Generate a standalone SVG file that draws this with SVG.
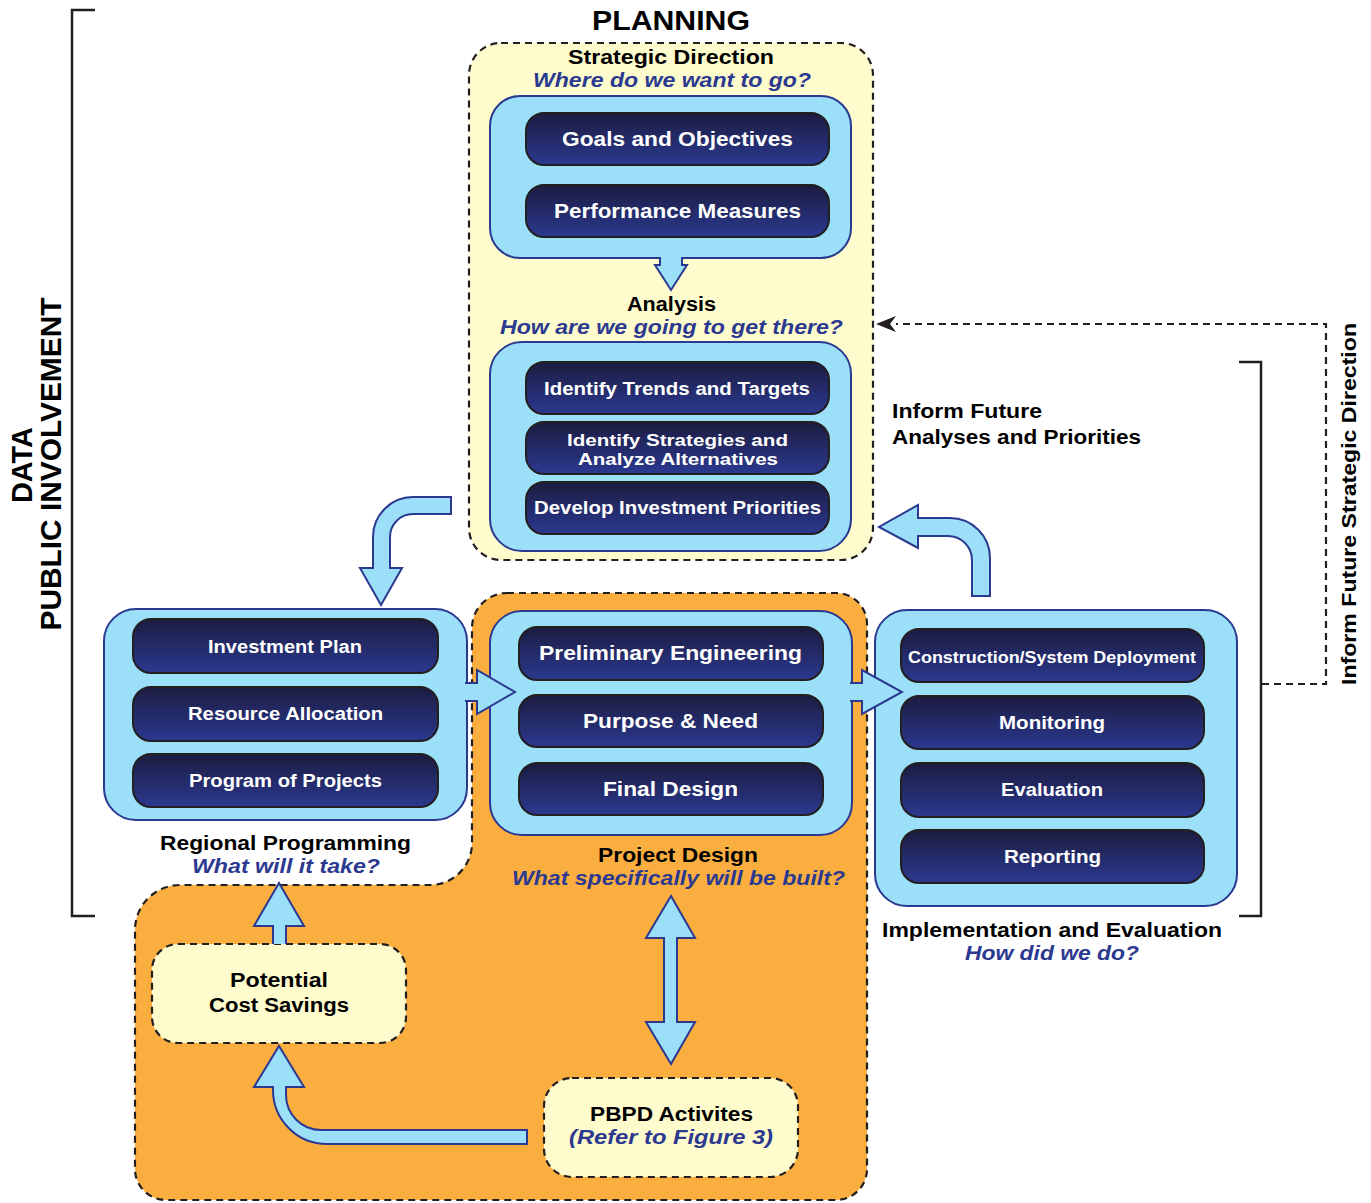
<svg xmlns="http://www.w3.org/2000/svg" width="1371" height="1203" viewBox="0 0 1371 1203">
<defs>
<linearGradient id="g" x1="0" y1="0" x2="0" y2="1">
<stop offset="0" stop-color="#1C1C40"/>
<stop offset="1" stop-color="#2B3990"/>
</linearGradient>
<marker id="ah" viewBox="0 0 20 16" refX="0" refY="8" markerWidth="20" markerHeight="16" markerUnits="userSpaceOnUse" orient="auto">
<path d="M20,8 L0,0 L6,8 L0,16 Z" fill="#231F20"/>
</marker>
<style>
.lb{fill:#9CDFF8;stroke:#2B3990;stroke-width:2}
.btn{fill:url(#g);stroke:#231F20;stroke-width:2}
.dash{fill:none;stroke:#231F20;stroke-width:2.2;stroke-dasharray:7 5}
.ar{fill:#9CDFF8;stroke:#2B3990;stroke-width:2;stroke-linejoin:miter}
text{font-family:"Liberation Sans","Open Sans",sans-serif;font-weight:700;text-anchor:middle}
.bt{fill:#FFFFFF}
.h{fill:#000000;font-size:19.5px}
.q{fill:#2B3990;font-style:italic;font-size:19.5px}
.br{fill:none;stroke:#231F20;stroke-width:2.5}
</style>
</defs>

<g id="background-regions">
<path id="orange-region" d="M507,593 H836 A31,31 0 0 1 867,624 V1170 A31,31 0 0 1 836,1200 H166 A31,31 0 0 1 135,1169 V930 A45,45 0 0 1 180,885 H430 A42,42 0 0 0 472,843 V628 A35,35 0 0 1 507,593 Z" class="dash" style="fill:#FBAE40"/>
<rect id="planning-region" x="469" y="43" width="404" height="517" rx="32" class="dash" style="fill:#FEFBCC"/>
</g>

<g id="brackets">
<path class="br" d="M95,10 H72 V916 H95"/>
<path class="br" d="M1239,362 H1261 V916 H1239"/>
<text transform="translate(32,465) rotate(-90)" style="font-size:29px" textLength="76" lengthAdjust="spacingAndGlyphs">DATA</text>
<text transform="translate(61,464) rotate(-90)" style="font-size:29px" textLength="333" lengthAdjust="spacingAndGlyphs">PUBLIC INVOLVEMENT</text>
<text transform="translate(1356,504) rotate(-90)" class="h" style="font-size:20px" textLength="362" lengthAdjust="spacingAndGlyphs">Inform Future Strategic Direction</text>
</g>

<g id="planning">
<text x="671" y="30" style="font-size:27px" textLength="158" lengthAdjust="spacingAndGlyphs">PLANNING</text>
<text x="671" y="64" class="h" textLength="206" lengthAdjust="spacingAndGlyphs">Strategic Direction</text>
<text x="672" y="86.5" class="q" textLength="278" lengthAdjust="spacingAndGlyphs">Where do we want to go?</text>
</g>

<g id="strategic-direction">
<path class="lb" d="M520,96 H821 A30,30 0 0 1 851,126 V228 A30,30 0 0 1 821,258 H682 V265 H687 L671,290 L655,265 H660 V258 H520 A30,30 0 0 1 490,228 V126 A30,30 0 0 1 520,96 Z"/>
<g id="goals-objectives"><rect class="btn" x="526" y="113" width="303" height="52" rx="18"/><text class="bt" x="677.5" y="146" style="font-size:20px" textLength="231" lengthAdjust="spacingAndGlyphs">Goals and Objectives</text></g>
<g id="performance-measures"><rect class="btn" x="526" y="185" width="303" height="52" rx="18"/><text class="bt" x="677.5" y="218" style="font-size:20px" textLength="247" lengthAdjust="spacingAndGlyphs">Performance Measures</text></g>
</g>

<g id="analysis">
<text x="671.5" y="311" class="h" textLength="89" lengthAdjust="spacingAndGlyphs">Analysis</text>
<text x="671.5" y="333.5" class="q" textLength="343" lengthAdjust="spacingAndGlyphs">How are we going to get there?</text>
<rect class="lb" x="490" y="342" width="361" height="209" rx="32"/>
<g id="identify-trends"><rect class="btn" x="526" y="362" width="303" height="52" rx="18"/><text class="bt" x="677" y="395" style="font-size:18px" textLength="266" lengthAdjust="spacingAndGlyphs">Identify Trends and Targets</text></g>
<g id="identify-strategies"><rect class="btn" x="526" y="422" width="303" height="52" rx="18"/><text class="bt" x="677.5" y="446" style="font-size:16.5px" textLength="221" lengthAdjust="spacingAndGlyphs">Identify Strategies and</text><text class="bt" x="678" y="464.5" style="font-size:16.5px" textLength="200" lengthAdjust="spacingAndGlyphs">Analyze Alternatives</text></g>
<g id="develop-priorities"><rect class="btn" x="526" y="482" width="303" height="52" rx="18"/><text class="bt" x="677.5" y="514" style="font-size:18px" textLength="287" lengthAdjust="spacingAndGlyphs">Develop Investment Priorities</text></g>
</g>

<g id="inform-future-analyses">
<text x="892" y="418" class="h" style="text-anchor:start;font-size:20px" textLength="150" lengthAdjust="spacingAndGlyphs">Inform Future</text>
<text x="892" y="444" class="h" style="text-anchor:start;font-size:20px" textLength="249" lengthAdjust="spacingAndGlyphs">Analyses and Priorities</text>
</g>

<g id="regional-programming">
<rect class="lb" x="104" y="609" width="363" height="211" rx="32"/>
<g id="investment-plan"><rect class="btn" x="133" y="619" width="305" height="54" rx="18"/><text class="bt" x="285" y="653" style="font-size:18px" textLength="154" lengthAdjust="spacingAndGlyphs">Investment Plan</text></g>
<g id="resource-allocation"><rect class="btn" x="133" y="687" width="305" height="54" rx="18"/><text class="bt" x="285.5" y="720" style="font-size:18px" textLength="195" lengthAdjust="spacingAndGlyphs">Resource Allocation</text></g>
<g id="program-of-projects"><rect class="btn" x="133" y="754" width="305" height="53" rx="18"/><text class="bt" x="285.5" y="787" style="font-size:18px" textLength="193" lengthAdjust="spacingAndGlyphs">Program of Projects</text></g>
<text x="285.5" y="850" class="h" textLength="251" lengthAdjust="spacingAndGlyphs">Regional Programming</text>
<text x="286" y="873" class="q" textLength="188" lengthAdjust="spacingAndGlyphs">What will it take?</text>
</g>

<g id="project-design">
<rect class="lb" x="490" y="611" width="362" height="224" rx="32"/>
<g id="preliminary-engineering"><rect class="btn" x="519" y="627" width="304" height="53" rx="18"/><text class="bt" x="670.5" y="660" style="font-size:20px" textLength="263" lengthAdjust="spacingAndGlyphs">Preliminary Engineering</text></g>
<g id="purpose-need"><rect class="btn" x="519" y="695" width="304" height="52" rx="18"/><text class="bt" x="670.5" y="728" style="font-size:20px" textLength="175" lengthAdjust="spacingAndGlyphs">Purpose &amp; Need</text></g>
<g id="final-design"><rect class="btn" x="519" y="763" width="304" height="52" rx="18"/><text class="bt" x="670.5" y="796" style="font-size:20px" textLength="135" lengthAdjust="spacingAndGlyphs">Final Design</text></g>
<text x="678" y="862" class="h" textLength="160" lengthAdjust="spacingAndGlyphs">Project Design</text>
<text x="678.5" y="884.5" class="q" textLength="333" lengthAdjust="spacingAndGlyphs">What specifically will be built?</text>
</g>

<g id="implementation-evaluation">
<rect class="lb" x="875" y="610" width="362" height="296" rx="32"/>
<g id="construction"><rect class="btn" x="901" y="629" width="303" height="53" rx="18"/><text class="bt" x="1052" y="663" style="font-size:16px" textLength="288" lengthAdjust="spacingAndGlyphs">Construction/System Deployment</text></g>
<g id="monitoring"><rect class="btn" x="901" y="696" width="303" height="53" rx="18"/><text class="bt" x="1052" y="729" style="font-size:18px" textLength="106" lengthAdjust="spacingAndGlyphs">Monitoring</text></g>
<g id="evaluation"><rect class="btn" x="901" y="763" width="303" height="54" rx="18"/><text class="bt" x="1052" y="796" style="font-size:18px" textLength="102" lengthAdjust="spacingAndGlyphs">Evaluation</text></g>
<g id="reporting"><rect class="btn" x="901" y="830" width="303" height="53" rx="18"/><text class="bt" x="1052.5" y="863" style="font-size:18px" textLength="97" lengthAdjust="spacingAndGlyphs">Reporting</text></g>
<text x="1052" y="937" class="h" textLength="340" lengthAdjust="spacingAndGlyphs">Implementation and Evaluation</text>
<text x="1052" y="959.5" class="q" textLength="174" lengthAdjust="spacingAndGlyphs">How did we do?</text>
</g>

<g id="potential-cost-savings">
<rect x="152" y="944" width="254" height="99" rx="26" class="dash" style="fill:#FEFBCC"/>
<text x="279" y="987" class="h" style="font-size:20px" textLength="98" lengthAdjust="spacingAndGlyphs">Potential</text>
<text x="279" y="1012" class="h" style="font-size:20px" textLength="140" lengthAdjust="spacingAndGlyphs">Cost Savings</text>
</g>

<g id="pbpd-activities">
<rect x="544" y="1078" width="254" height="99" rx="28" class="dash" style="fill:#FEFBCC"/>
<text x="671.5" y="1121" class="h" textLength="163" lengthAdjust="spacingAndGlyphs">PBPD Activites</text>
<text x="671" y="1144" class="q" textLength="204" lengthAdjust="spacingAndGlyphs">(Refer to Figure 3)</text>
</g>

<g id="connectors">
<path class="ar" d="M451,497 H413 A40,40 0 0 0 373,537 V568 H360 L381,605 L402,568 H390 V537 A23,23 0 0 1 413,514 H451 Z"/>
<path class="ar" d="M972,596 V560 A24,24 0 0 0 948,536 H918 V548 L879,527 L918,505 V518 H950 A40,40 0 0 1 990,558 V596 Z"/>
<path d="M465,683 H477 V670 L515,692 L477,714 V701 H465 Z" style="fill:#9CDFF8"/>
<path d="M465,683 H477 V670 L515,692 L477,714 V701 H465" class="ar" style="fill:none"/>
<path d="M850,683 H862 V670 L902,692 L862,714 V701 H850 Z" style="fill:#9CDFF8"/>
<path d="M850,683 H862 V670 L902,692 L862,714 V701 H850" class="ar" style="fill:none"/>
<path class="ar" d="M664,938 H646 L671,896 L695,938 H677 V1022 H695 L671,1064 L646,1022 H664 Z"/>
<path class="ar" d="M527,1130 H321 A35,35 0 0 1 286,1095 V1087 H304 L279,1046 L254,1087 H273 V1090 A54,54 0 0 0 327,1144 H527 Z"/>
<path class="ar" d="M273,944 V926 H254 L279,883 L304,926 H286 V944"/>
<path class="dash" d="M1262,684 H1326 V324 H896" marker-end="url(#ah)"/>
</g>
</svg>
